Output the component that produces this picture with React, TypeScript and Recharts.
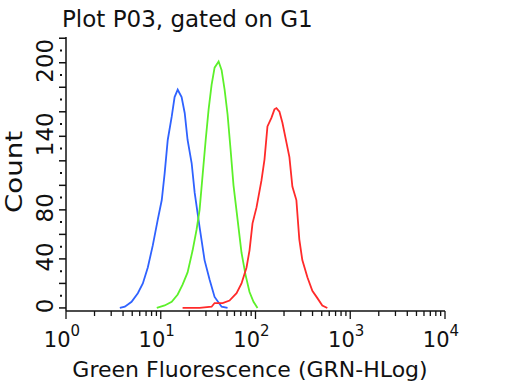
import { Line, LineChart, XAxis, YAxis } from "recharts";

// Histogram traces (x = GRN-HLog intensity, y = count)
const BLUE_X = [3.7, 4.18, 4.92, 5.73, 6.47, 7.3, 8.24, 9.3, 10.25, 11.0, 11.85, 13.05, 14.0, 15.1, 16.6, 17.9, 19.2, 21.2, 22.8, 25.7, 29.0, 32.8, 37.0, 43.9, 50.7];
const BLUE_Y = [0, 1, 5, 12, 20, 33, 51, 72, 88, 110, 137, 156, 172, 178, 172, 159, 137, 118, 94, 66, 39, 23, 9, 1, 0];

const GREEN_X = [9.08, 11.0, 13.05, 15.1, 17.0, 19.2, 21.7, 23.9, 25.7, 27.7, 29.8, 32.0, 34.4, 37.0, 40.8, 43.9, 47.2, 50.7, 54.6, 58.6, 64.7, 71.2, 78.5, 86.5, 95.3, 105];
const GREEN_Y = [0, 2, 5, 11, 19, 29, 47, 64, 80, 109, 137, 162, 182, 196, 201, 194, 178, 158, 129, 100, 72, 45, 27, 13, 5, 0];

const RED_X = [17.0, 25.7, 34.4, 37.0, 45.0, 53.2, 63.1, 71.2, 80.4, 86.5, 93.0, 102.5, 115.6, 124.4, 133.7, 147.2, 158.5, 166.3, 179, 192.4, 212, 228, 245, 270, 290, 312, 353, 398, 450, 507, 573];
const RED_Y = [0, 0, 1, 4, 4, 6, 12, 20, 33, 47, 69, 82, 104, 121, 148, 155, 162, 163, 160, 151, 135, 123, 99, 88, 56, 39, 25, 14, 8, 2, 0];

// axis ticks
const X_DECADES = [1, 10, 100, 1000, 10000];
const X_MINOR = [2, 3, 4, 5, 6, 7, 8, 9];
const Y_TICKS = [0, 10, 20, 30, 40, 50, 60, 70, 80, 90, 100, 110, 120, 130, 140, 150, 160, 170, 180, 190, 200, 210, 220];
const Y_LABELS = [0, 40, 80, 140, 200];

const FONT = "DejaVu Sans";
const INK = "#111";

const zip = (xs: number[], ys: number[]) => xs.map((x, i) => ({ x, y: ys[i] }));
const blue = zip(BLUE_X, BLUE_Y);
const green = zip(GREEN_X, GREEN_Y);
const red = zip(RED_X, RED_Y);

const xTicks = X_DECADES.flatMap((d, i) =>
  i < X_DECADES.length - 1 ? [d, ...X_MINOR.map((m) => m * d)] : [d]
);

function XTick({ x, y, payload }: any) {
  const v = payload.value;
  const idx = X_DECADES.indexOf(v);
  const major = idx >= 0;
  return (
    <g>
      <line x1={x} x2={x} y1={y} y2={y + (major ? 8 : 5)} stroke={INK} strokeWidth={1.3} />
      {major && (
        <text x={x - 4} y={y + 36} textAnchor="middle" fontFamily={FONT} fontSize={21} fill={INK}>
          10
          <tspan dy={-11} fontSize={15}>
            {idx}
          </tspan>
        </text>
      )}
    </g>
  );
}

function YTick({ x, y, payload }: any) {
  const v = payload.value;
  const major = v % 20 === 0;
  return (
    <g>
      {major ? (
        <line x1={x - 7} x2={x} y1={y} y2={y} stroke={INK} strokeWidth={1.5} />
      ) : (
        <line x1={x - 6} x2={x - 4} y1={y} y2={y} stroke={INK} strokeWidth={2} />
      )}
      {Y_LABELS.includes(v) && (
        <text
          transform={`translate(${x - 13},${y - 2}) rotate(-90)`}
          textAnchor="middle"
          fontFamily={FONT}
          fontSize={23}
          fill={INK}
        >
          {v}
        </text>
      )}
    </g>
  );
}

export default function App() {
  return (
    <div style={{ position: "absolute", left: 0, top: 0, width: 512, height: 384, background: "#fff" }}>
      <LineChart width={512} height={384} margin={{ top: 37, right: 67, left: 0, bottom: 0 }}>
        <XAxis
          type="number"
          dataKey="x"
          scale="log"
          domain={[1, 10000]}
          allowDataOverflow
          ticks={xTicks}
          interval={0}
          tick={<XTick />}
          tickLine={false}
          tickSize={0}
          tickMargin={0}
          height={73}
          axisLine={{ stroke: INK, strokeWidth: 1.5 }}
        />
        <XAxis
          xAxisId="top"
          orientation="top"
          type="number"
          domain={[1, 10000]}
          scale="log"
          height={0}
          tick={false}
          tickLine={false}
          axisLine={{ stroke: INK, strokeWidth: 1.5 }}
        />
        <YAxis
          type="number"
          domain={[-2.5, 221]}
          allowDataOverflow
          ticks={Y_TICKS}
          interval={0}
          tick={<YTick />}
          tickLine={false}
          tickSize={0}
          tickMargin={0}
          width={66}
          axisLine={{ stroke: INK, strokeWidth: 1.5 }}
        />
        <YAxis
          yAxisId="right"
          orientation="right"
          domain={[0, 1]}
          width={0}
          tick={false}
          tickLine={false}
          axisLine={{ stroke: INK, strokeWidth: 1.5 }}
        />
        <Line data={blue} dataKey="y" type="linear" stroke="#2f62ff" strokeWidth={1.8} dot={false} isAnimationActive={false} />
        <Line data={green} dataKey="y" type="linear" stroke="#5cf02a" strokeWidth={1.8} dot={false} isAnimationActive={false} />
        <Line data={red} dataKey="y" type="linear" stroke="#ff2a2a" strokeWidth={1.8} dot={false} isAnimationActive={false} />
      </LineChart>
      <svg width={512} height={384} style={{ position: "absolute", left: 0, top: 0, pointerEvents: "none" }}>
        <text x={62} y={27} fontFamily={FONT} fontSize={23} fill={INK}>
          Plot P03, gated on G1
        </text>
        <text x={250} y={377} textAnchor="middle" fontFamily={FONT} fontSize={22} fill={INK}>
          Green Fluorescence (GRN-HLog)
        </text>
        <text
          transform="translate(22,172) rotate(-90) scale(1.2,1)"
          textAnchor="middle"
          fontFamily={FONT}
          fontSize={23}
          fill={INK}
        >
          Count
        </text>
      </svg>
    </div>
  );
}
